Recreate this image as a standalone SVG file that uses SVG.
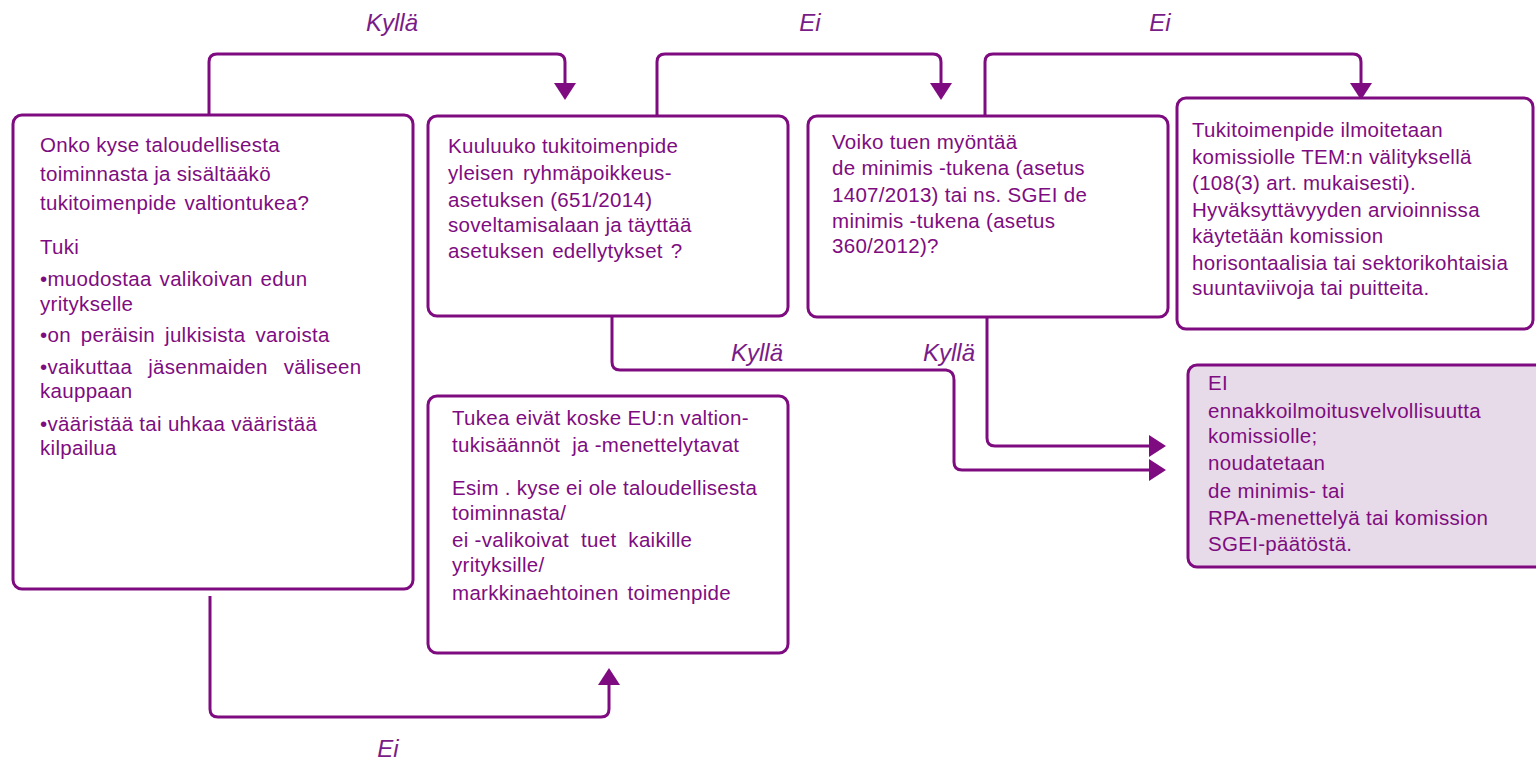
<svg xmlns="http://www.w3.org/2000/svg" width="1536" height="760" viewBox="0 0 1536 760">
<defs>
<style>
.box{fill:#ffffff;stroke:#7E0C80;stroke-width:3}
.alt{fill:#E8DBE9}
.t{font-family:"Liberation Sans",Arial,sans-serif;font-size:20.5px;letter-spacing:0.3px;fill:#7E0C80}
.lbl{font-family:"Liberation Sans",Arial,sans-serif;font-size:24px;font-style:italic;fill:#7A1C88;text-anchor:middle}
.c{fill:none;stroke:#7E0C80;stroke-width:3}
</style>
<marker id="ah" viewBox="0 0 17 22" refX="14" refY="11" markerWidth="17" markerHeight="22" markerUnits="userSpaceOnUse" orient="auto">
<path d="M0,0 L17,11 L0,22 z" fill="#7E0C80"/>
</marker>
</defs>
<rect width="1536" height="760" fill="#ffffff"/>

<g id="connectors">
<path class="c" d="M209,115 V62 Q209,54 217,54 H557 Q565,54 565,62 V97" marker-end="url(#ah)"/>
<path class="c" d="M657,116 V62 Q657,54 665,54 H933 Q941,54 941,62 V97" marker-end="url(#ah)"/>
<path class="c" d="M985,116 V62 Q985,54 993,54 H1353 Q1361,54 1361,62 V97" marker-end="url(#ah)"/>
<path class="c" d="M612,316 V362 Q612,370 620,370 H946 Q954,371 954,380 V462 Q954,470 962,470 H1163" marker-end="url(#ah)"/>
<path class="c" d="M987,317 V438 Q987,446 995,446 H1163" marker-end="url(#ah)"/>
<path class="c" d="M210,596 V709 Q210,717 218,717 H601 Q609,717 609,709 V671" marker-end="url(#ah)"/>
<text class="lbl" x="392" y="31">Kyllä</text>
<text class="lbl" x="810" y="31">Ei</text>
<text class="lbl" x="1160" y="31">Ei</text>
<text class="lbl" x="757" y="361">Kyllä</text>
<text class="lbl" x="949" y="361">Kyllä</text>
<text class="lbl" x="388" y="757">Ei</text>
</g>

<g id="node1">
<rect class="box" x="13" y="115" width="400" height="474" rx="9"/>
<text class="t" x="40" y="152">Onko kyse taloudellisesta</text>
<text class="t" x="40" y="181">toiminnasta ja sisältääkö</text>
<text class="t" x="40" y="210" word-spacing="2">tukitoimenpide valtiontukea?</text>
<text class="t" x="40" y="254">Tuki</text>
<text class="t" x="40" y="286" word-spacing="2">•muodostaa valikoivan edun</text>
<text class="t" x="40" y="311">yritykselle</text>
<text class="t" x="40" y="342" word-spacing="4">•on peräisin julkisista varoista</text>
<text class="t" x="40" y="374" word-spacing="10">•vaikuttaa jäsenmaiden väliseen</text>
<text class="t" x="40" y="398">kauppaan</text>
<text class="t" x="40" y="431">•vääristää tai uhkaa vääristää</text>
<text class="t" x="40" y="455">kilpailua</text>
</g>

<g id="node2">
<rect class="box" x="428" y="116" width="360" height="200" rx="9"/>
<text class="t" x="448" y="153">Kuuluuko tukitoimenpide</text>
<text class="t" x="448" y="180" word-spacing="3">yleisen ryhmäpoikkeus-</text>
<text class="t" x="448" y="207">asetuksen (651/2014)</text>
<text class="t" x="448" y="232">soveltamisalaan ja täyttää</text>
<text class="t" x="448" y="258" word-spacing="2">asetuksen edellytykset ?</text>
</g>

<g id="node3">
<rect class="box" x="808" y="116" width="360" height="201" rx="9"/>
<text class="t" x="832" y="149">Voiko tuen myöntää</text>
<text class="t" x="832" y="175">de minimis -tukena (asetus</text>
<text class="t" x="832" y="202">1407/2013) tai ns. SGEI de</text>
<text class="t" x="832" y="228">minimis -tukena (asetus</text>
<text class="t" x="832" y="253">360/2012)?</text>
</g>

<g id="node4">
<rect class="box" x="1177" y="98" width="356" height="231" rx="9"/>
<text class="t" x="1192" y="137">Tukitoimenpide ilmoitetaan</text>
<text class="t" x="1192" y="164">komissiolle TEM:n välityksellä</text>
<text class="t" x="1192" y="190">(108(3) art. mukaisesti).</text>
<text class="t" x="1192" y="217">Hyväksyttävyyden arvioinnissa</text>
<text class="t" x="1192" y="243">käytetään komission</text>
<text class="t" x="1192" y="270">horisontaalisia tai sektorikohtaisia</text>
<text class="t" x="1192" y="295">suuntaviivoja tai puitteita.</text>
</g>

<g id="node5">
<rect class="box" x="428" y="396" width="360" height="257" rx="9"/>
<text class="t" x="452" y="425">Tukea eivät koske EU:n valtion-</text>
<text class="t" x="452" y="452" xml:space="preserve">tukisäännöt  ja -menettelytavat</text>
<text class="t" x="452" y="495">Esim . kyse ei ole taloudellisesta</text>
<text class="t" x="452" y="520">toiminnasta/</text>
<text class="t" x="452" y="547" xml:space="preserve">ei -valikoivat  tuet  kaikille</text>
<text class="t" x="452" y="572">yrityksille/</text>
<text class="t" x="452" y="600" word-spacing="3">markkinaehtoinen toimenpide</text>
</g>

<g id="node6">
<rect class="box alt" x="1188" y="365" width="370" height="202" rx="9"/>
<text class="t" x="1208" y="390">EI</text>
<text class="t" x="1208" y="418">ennakkoilmoitusvelvollisuutta</text>
<text class="t" x="1208" y="443">komissiolle;</text>
<text class="t" x="1208" y="470">noudatetaan</text>
<text class="t" x="1208" y="498">de minimis- tai</text>
<text class="t" x="1208" y="525">RPA-menettelyä tai komission</text>
<text class="t" x="1208" y="551">SGEI-päätöstä.</text>
</g>
</svg>
